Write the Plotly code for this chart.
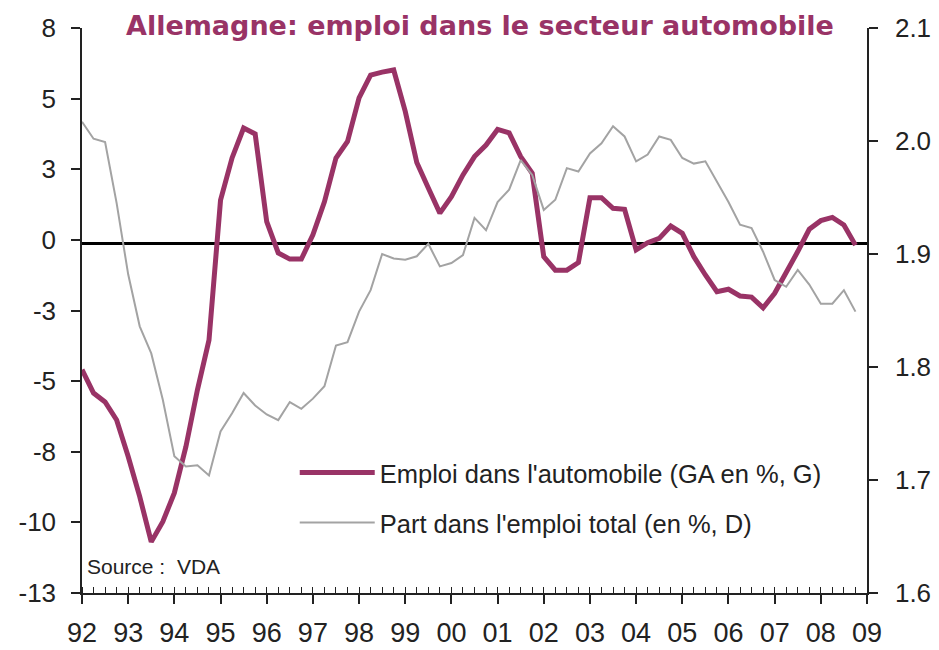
import numpy as np
import plotly.graph_objects as go

# ---- data (quarterly, 1992Q1 .. 2008Q4) ----
emploi_auto = [-4.7, -5.57, -5.9, -6.57, -7.93, -9.42, -11.1, -10.35,
               -9.28, -7.56, -5.45, -3.6, 1.6, 3.17, 4.28, 4.06,
               0.8, -0.36, -0.59, -0.59, 0.31, 1.54, 3.17, 3.78,
               5.4, 6.25, 6.36, 6.44, 4.9, 3.0, 2.05, 1.12,
               1.73, 2.54, 3.22, 3.65, 4.23, 4.1, 3.22, 2.6,
               -0.5, -1.0, -1.0, -0.72, 1.69, 1.69, 1.3, 1.26,
               -0.25, 0.02, 0.18, 0.64, 0.37, -0.5, -1.18, -1.8,
               -1.71, -1.96, -2.0, -2.4, -1.86, -1.12, -0.31, 0.52,
               0.84, 0.96, 0.68, -0.07]
part_emploi = [2.017, 2.002, 1.999, 1.945, 1.882, 1.836, 1.812, 1.771,
               1.721, 1.712, 1.713, 1.704, 1.743, 1.759, 1.777, 1.766,
               1.758, 1.753, 1.769, 1.763, 1.772, 1.783, 1.819, 1.822,
               1.849, 1.868, 1.900, 1.896, 1.895, 1.898, 1.909, 1.889,
               1.892, 1.899, 1.932, 1.921, 1.946, 1.957, 1.983, 1.970,
               1.939, 1.948, 1.976, 1.973, 1.989, 1.998, 2.013, 2.004,
               1.982, 1.988, 2.004, 2.001, 1.985, 1.980, 1.982, 1.964,
               1.946, 1.926, 1.923, 1.902, 1.877, 1.871, 1.886, 1.873,
               1.856, 1.856, 1.868, 1.849]
start_year = 1992
quarters = [start_year + i / 4 for i in range(len(emploi_auto))]

years = list(range(1992, 2010))
year_labels = ["92", "93", "94", "95", "96", "97", "98", "99", "00",
               "01", "02", "03", "04", "05", "06", "07", "08", "09"]
left_range = [-13, 8]
left_tick_labels = ["-13", "-10", "-8", "-5", "-3", "0", "3", "5", "8"]
right_range = [1.6, 2.1]
right_ticks = [1.6, 1.7, 1.8, 1.9, 2.0, 2.1]

title_text = "Allemagne: emploi dans le secteur automobile"
name_auto = "Emploi dans l'automobile (GA en %, G)"
name_part = "Part dans l'emploi total (en %, D)"

PURPLE = "#993366"
GRAY = "#A3A3A3"
FONT = "Liberation Sans, Arial, sans-serif"

fig = go.Figure()
fig.add_trace(go.Scatter(x=quarters, y=part_emploi, name=name_part, yaxis="y2",
                         mode="lines", line=dict(color=GRAY, width=2),
                         legend="legend2"))
fig.add_trace(go.Scatter(x=quarters, y=emploi_auto, name=name_auto, yaxis="y",
                         mode="lines", line=dict(color=PURPLE, width=5),
                         legend="legend"))

left_tickvals = list(np.linspace(left_range[0], left_range[1], len(left_tick_labels)))

# page body has an 8px margin: plot area spans x 82..867, y 28..593 in the window
fig.update_layout(
    width=931, height=642, autosize=False,
    margin=dict(l=74, r=72, t=20, b=57, autoexpand=False),
    paper_bgcolor="white", plot_bgcolor="white",
    font=dict(family=FONT, color="#222222"),
    showlegend=True,
    xaxis=dict(range=[1992, 2009], tickvals=years, ticktext=year_labels,
               ticks="outside", ticklen=9, tickwidth=1.5, tickcolor="#222",
               showline=True, linecolor="#222", linewidth=1.5,
               showgrid=False, zeroline=False, automargin=False,
               tickfont=dict(size=27, family=FONT, color="#222"),
               ticklabelstandoff=6,
               minor=dict(dtick=0.25, tick0=1992, ticks="inside", ticklen=6,
                          tickwidth=1.2, tickcolor="#222", showgrid=False)),
    xaxis2=dict(range=[1992, 2009], overlaying="x", anchor="y", side="bottom",
                tickvals=years, ticks="inside", ticklen=9, tickwidth=1.5,
                tickcolor="#222", showticklabels=False, showline=False,
                showgrid=False, zeroline=False, automargin=False),
    yaxis=dict(range=left_range, tickvals=left_tickvals, ticktext=left_tick_labels,
               ticks="outside", ticklen=9, tickwidth=1.5, tickcolor="#222",
               showline=True, linecolor="#222", linewidth=1.5,
               showgrid=False, zeroline=True, zerolinecolor="black",
               zerolinewidth=2.5, automargin=False,
               tickfont=dict(size=26, family=FONT, color="#222"),
               ticklabelstandoff=10),
    yaxis2=dict(range=right_range, tickvals=right_ticks, tickformat=".1f",
                overlaying="y", side="right", anchor="x",
                ticks="outside", ticklen=9, tickwidth=1.5, tickcolor="#222",
                showline=True, linecolor="#222", linewidth=1.5,
                showgrid=False, zeroline=False, automargin=False,
                tickfont=dict(size=26, family=FONT, color="#222"),
                ticklabelstandoff=12),
    legend=dict(x=0.271, y=0.2124, xanchor="left", yanchor="middle",
                bgcolor="rgba(0,0,0,0)", itemwidth=75,
                font=dict(size=25.5, family=FONT, color="#222")),
    legend2=dict(x=0.271, y=0.1239, xanchor="left", yanchor="middle",
                 bgcolor="rgba(0,0,0,0)", itemwidth=75,
                 font=dict(size=25.5, family=FONT, color="#222")),
)

fig.add_annotation(text=title_text, xref="paper", yref="paper",
                   x=0.507, y=1.005, xanchor="center", yanchor="middle",
                   showarrow=False,
                   font=dict(size=27, family="DejaVu Sans, sans-serif",
                             color=PURPLE, weight="bold"))
fig.add_annotation(text="Source :  VDA", xref="paper", yref="paper",
                   x=0.004, y=(593 - 566) / 565, xanchor="left", yanchor="middle",
                   showarrow=False,
                   font=dict(size=21, family=FONT, color="#222"))

fig.write_html("out.html")
